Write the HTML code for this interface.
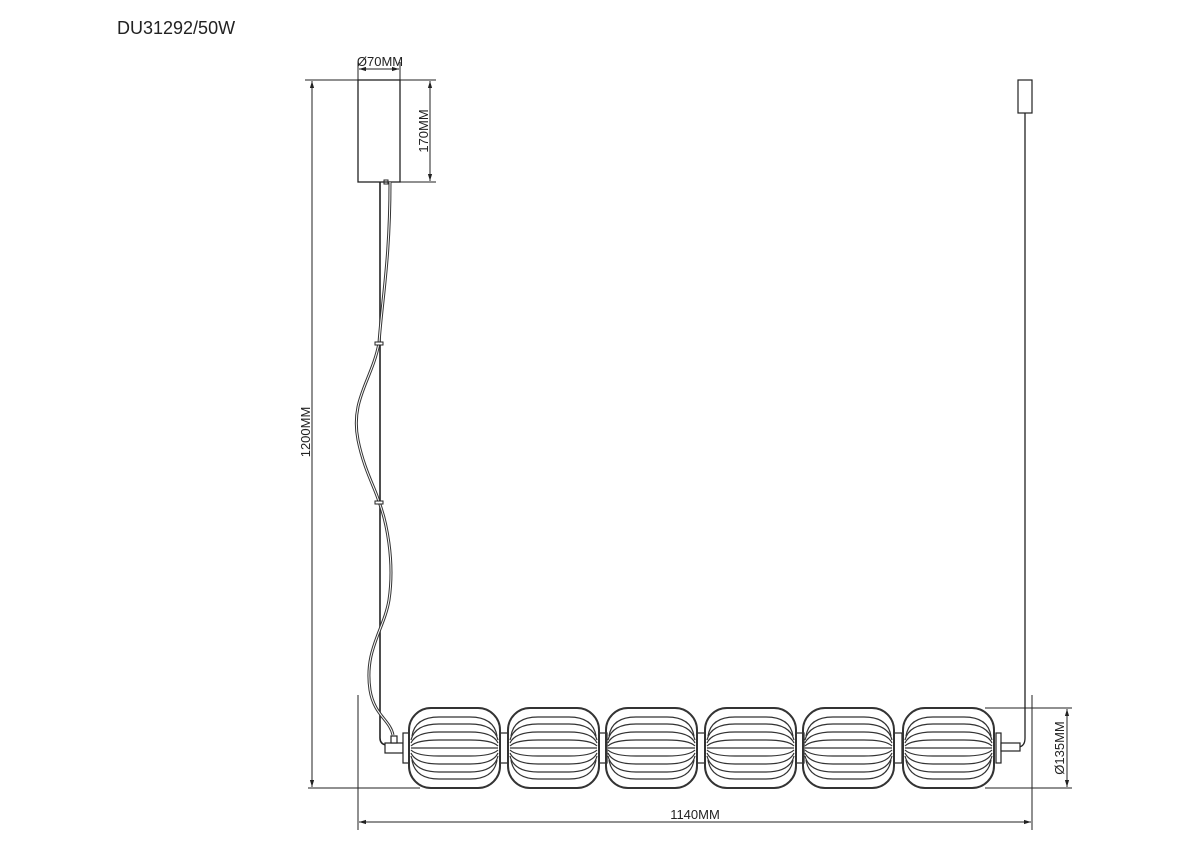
<!DOCTYPE html>
<html><head><style>
html,body{margin:0;padding:0;background:#fff;}
svg{display:block;}
text{font-family:"Liberation Sans",Arial,sans-serif;fill:#222;}
</style></head><body>
<svg width="1200" height="848" viewBox="0 0 1200 848" xmlns="http://www.w3.org/2000/svg">
<defs>
<marker id="a" viewBox="0 0 10 10" refX="10" refY="5" markerWidth="7" markerHeight="7" orient="auto-start-reverse"><path d="M0,2 L10,5 L0,8z" fill="#222"/></marker>
<g id="pod" fill="none" stroke="#333" stroke-width="1.2">
<rect x="0" y="0" width="91" height="80" rx="22" stroke-width="2"/>
<path d="M2,40 H89"/>
<path d="M2,38 Q8,32 30,32 H61 Q83,32 89,38 M2,42 Q8,48 30,48 H61 Q83,48 89,42"/>
<path d="M2,35 Q7,24 30,24 H61 Q84,24 89,35 M2,45 Q7,56 30,56 H61 Q84,56 89,45"/>
<path d="M2,32 Q6,16 30,16 H61 Q85,16 89,32 M2,48 Q6,64 30,64 H61 Q85,64 89,48"/>
<path d="M3,28 Q6,9 30,9 H61 Q85,9 88,28 M3,52 Q6,71 30,71 H61 Q85,71 88,52"/>
</g>
</defs>
<text x="117" y="34" font-size="18">DU31292/50W</text>

<g stroke="#222" fill="none" stroke-width="1">
<rect x="358" y="80" width="42" height="102" stroke-width="1.3"/>
<line x1="305" y1="80" x2="436" y2="80"/>
<line x1="358" y1="62" x2="358" y2="80"/><line x1="400" y1="62" x2="400" y2="80"/>
<line x1="359" y1="69" x2="399" y2="69" marker-start="url(#a)" marker-end="url(#a)"/>
<line x1="400" y1="182" x2="436" y2="182"/>
<line x1="430" y1="81" x2="430" y2="181" marker-start="url(#a)" marker-end="url(#a)"/>
<line x1="312" y1="81" x2="312" y2="787" marker-start="url(#a)" marker-end="url(#a)"/>
<line x1="308" y1="788" x2="420" y2="788"/>
<line x1="358" y1="695" x2="358" y2="830"/>
<line x1="1032" y1="695" x2="1032" y2="830"/>
<line x1="359" y1="822" x2="1031" y2="822" marker-start="url(#a)" marker-end="url(#a)"/>
<line x1="985" y1="708" x2="1072" y2="708"/>
<line x1="985" y1="788" x2="1072" y2="788"/>
<line x1="1067" y1="709" x2="1067" y2="787" marker-start="url(#a)" marker-end="url(#a)"/>
</g>
<text x="380" y="66" font-size="13" text-anchor="middle">Ø70MM</text>
<text transform="translate(428,131) rotate(-90)" font-size="13" text-anchor="middle">170MM</text>
<text transform="translate(310,432) rotate(-90)" font-size="13" text-anchor="middle">1200MM</text>
<text x="695" y="819" font-size="13" text-anchor="middle">1140MM</text>
<text transform="translate(1064,748) rotate(-90)" font-size="13" text-anchor="middle">Ø135MM</text>

<g fill="none">
<path d="M380,182 V738 Q380,744 386,745" stroke="#222" stroke-width="1.6"/>
<path d="M390,182 C390,260 382,300 379,343 C372,380 350,400 358,440 C364,470 376,490 379,502 C386,520 395,560 389,600 C384,630 364,650 370,690 C374,715 390,720 393,735" stroke="#333" stroke-width="3"/>
<path d="M390,182 C390,260 382,300 379,343 C372,380 350,400 358,440 C364,470 376,490 379,502 C386,520 395,560 389,600 C384,630 364,650 370,690 C374,715 390,720 393,735" stroke="#fff" stroke-width="1"/>
<rect x="375" y="342" width="8" height="3" stroke="#222" fill="#fff"/>
<rect x="375" y="501" width="8" height="3" stroke="#222" fill="#fff"/>
<rect x="384" y="180" width="4" height="4" stroke="#222"/>
<rect x="1018" y="80" width="14" height="33" stroke="#222" stroke-width="1.2"/>
<path d="M1025,113 V738 Q1025,746 1019,747" stroke="#222" stroke-width="1.3"/>
</g>

<g stroke="#222" fill="#fff" stroke-width="1.2">
<rect x="385" y="743" width="18" height="10"/>
<rect x="391" y="736" width="6" height="7"/>
<rect x="403" y="733" width="6" height="30"/>
<rect x="996" y="733" width="5" height="30"/>
<rect x="1001" y="743" width="19" height="8"/>
<rect x="500" y="733" width="8" height="30"/>
<rect x="599" y="733" width="8" height="30"/>
<rect x="697" y="733" width="8" height="30"/>
<rect x="796" y="733" width="8" height="30"/>
<rect x="894" y="733" width="8" height="30"/>
</g>
<use href="#pod" x="409" y="708"/>
<use href="#pod" x="508" y="708"/>
<use href="#pod" x="606" y="708"/>
<use href="#pod" x="705" y="708"/>
<use href="#pod" x="803" y="708"/>
<use href="#pod" x="903" y="708"/>
</svg>
</body></html>
